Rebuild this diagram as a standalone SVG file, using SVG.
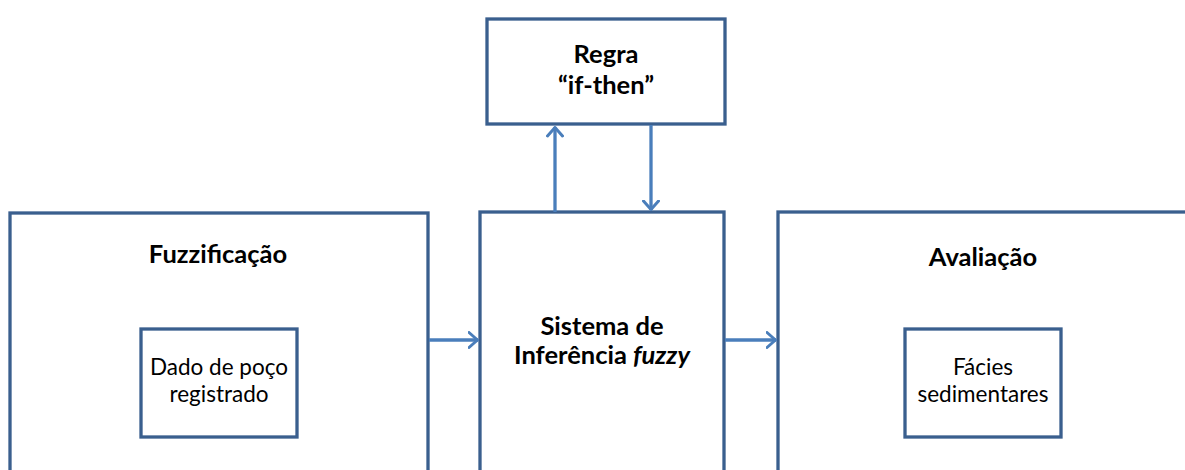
<svg xmlns="http://www.w3.org/2000/svg" width="1185" height="470" viewBox="0 0 1185 470">
<style>
.box{fill:#fff;stroke:#3A5F8E;stroke-width:3.3}
.con{stroke:#4A7EBB;stroke-width:3.3;fill:none}
.t{font-family:Lato,"Liberation Sans",sans-serif;fill:#000;text-anchor:middle}
.b{font-weight:bold;font-size:25.5px}
.r{font-size:22.5px}
</style>
<defs>
<marker id="ah" viewBox="0 0 12 18" refX="10.5" refY="9" markerWidth="12" markerHeight="18" markerUnits="userSpaceOnUse" orient="auto">
<path d="M1.5,1.5 L10,9 L1.5,16.5" fill="none" stroke="#4A7EBB" stroke-width="3" stroke-linecap="round" stroke-linejoin="round"/>
</marker>
</defs>
<rect width="1185" height="470" fill="#fff"/>
<g id="regra">
<rect class="box" x="487" y="19" width="238" height="105"/>
<text class="t b" x="606" y="63">Regra</text>
<text class="t b" x="606" y="94">“if-then”</text>
</g>
<g id="fuzzificacao">
<rect class="box" x="10" y="213" width="418" height="270"/>
<text class="t b" x="218" y="263">Fuzzificação</text>
<g id="dado">
<rect class="box" x="141" y="329" width="156" height="108"/>
<text class="t r" x="219" y="375">Dado de poço</text>
<text class="t r" x="219" y="402">registrado</text>
</g>
</g>
<g id="sistema">
<rect class="box" x="480" y="212" width="244" height="270"/>
<text class="t b" x="602" y="335">Sistema de</text>
<text class="t b" x="602" y="364">Inferência <tspan font-style="italic">fuzzy</tspan></text>
</g>
<g id="avaliacao">
<rect class="box" x="778" y="212" width="420" height="270"/>
<text class="t b" x="983" y="266">Avaliação</text>
<g id="facies">
<rect class="box" x="905" y="329" width="156" height="108"/>
<text class="t r" x="983" y="375">Fácies</text>
<text class="t r" x="983" y="402">sedimentares</text>
</g>
</g>
<g id="connectors">
<line class="con" x1="555" y1="212" x2="555" y2="127" marker-end="url(#ah)"/>
<line class="con" x1="651" y1="125" x2="651" y2="210" marker-end="url(#ah)"/>
<line class="con" x1="429" y1="340" x2="478" y2="340" marker-end="url(#ah)"/>
<line class="con" x1="725" y1="340" x2="776" y2="340" marker-end="url(#ah)"/>
</g>
</svg>
